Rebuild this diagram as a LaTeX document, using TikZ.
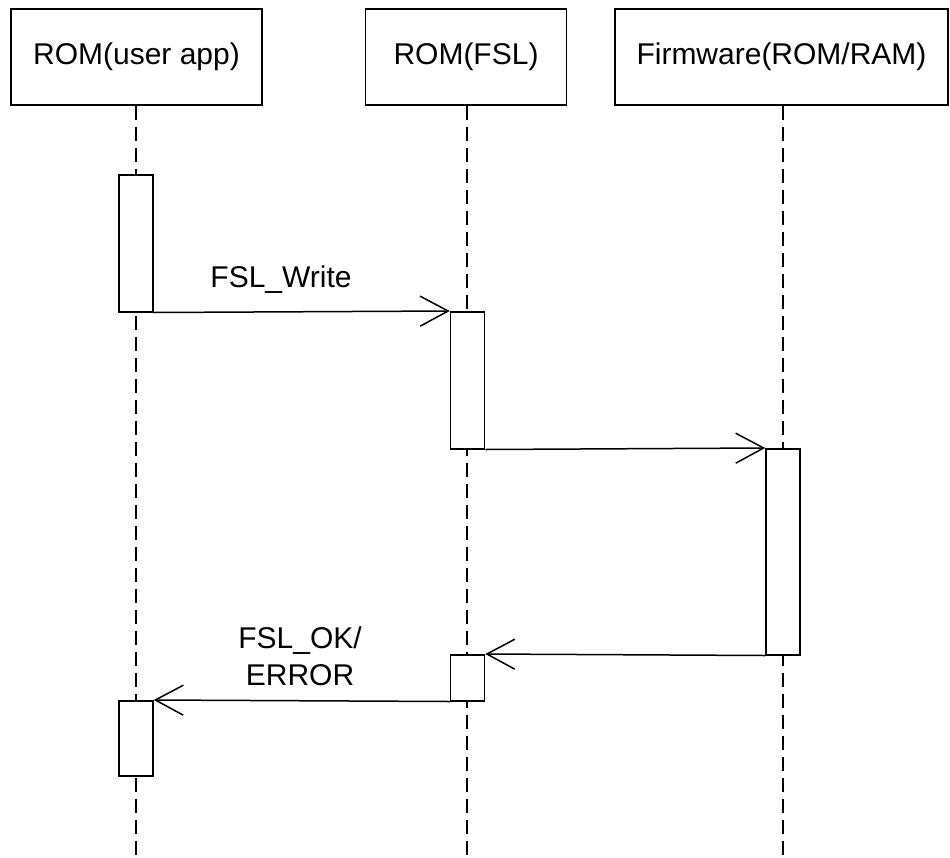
\documentclass[tikz,border=0pt]{standalone}
\usepackage{fontspec}
\setmainfont{Liberation Sans}
\usetikzlibrary{arrows.meta}
\begin{document}
\begin{tikzpicture}[x=1pt,y=-1pt,line width=1.5pt,
  headbox/.style={draw,rectangle,inner sep=0pt,minimum height=96pt,font=\fontsize{30}{36}\selectfont},
  lifeline/.style={dash pattern=on 14pt off 7pt,line width=1.3pt},
  act/.style={draw,rectangle,fill=white,inner sep=0pt,minimum width=34pt,anchor=north},
  msg/.style={-{Straight Barb[length=28pt,width=30pt]}},
  lbl/.style={font=\fontsize{30}{37}\selectfont,anchor=base,inner sep=0pt,align=center}]
\useasboundingbox (0,0) rectangle (950,857);
% head boxes
\node[headbox,minimum width=251pt] (b1) at (136.5,57) {ROM(user app)};
\node[headbox,minimum width=201pt] (b2) at (466,57) {ROM(FSL)};
\node[headbox,minimum width=333pt] (b3) at (781.5,57) {Firmware(ROM/RAM)};
% lifeline ends
\coordinate (e1) at (136,857);
\coordinate (e2) at (467,857);
\coordinate (e3) at (783,857);
\draw[lifeline] (b1.south -| e1) -- (e1);
\draw[lifeline] (b2.south -| e2) -- (e2);
\draw[lifeline] (b3.south -| e3) -- (e3);
% activations
\node[act,minimum height=137pt] (a1) at (136,174) {};
\node[act,minimum height=137pt] (a2) at (467.5,311) {};
\node[act,minimum height=206pt] (a3) at (783,448) {};
\node[act,minimum height=46pt] (a4) at (467.5,654) {};
\node[act,minimum height=75pt] (a5) at (136,700) {};
% messages
\draw[msg] (a1.south east) -- (a2.north west);
\draw[msg] (a2.south east) -- (a3.north west);
\draw[msg] (a3.south west) -- (a4.north east);
\draw[msg] (a4.south west) -- (a5.north east);
% labels
\node[lbl] (l1) at (281,287) {FSL\_Write};
\node[lbl] (l2) at (300,685) {FSL\_OK/\\ERROR};
\end{tikzpicture}
\end{document}
